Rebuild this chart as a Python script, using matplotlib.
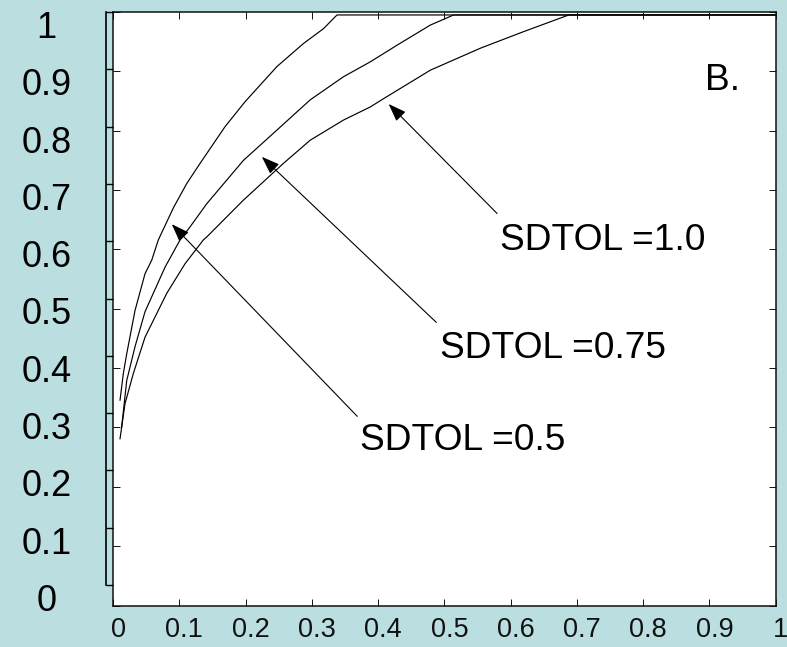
import numpy as np
import matplotlib
matplotlib.use("Agg")
import matplotlib.pyplot as plt
from matplotlib.transforms import ScaledTranslation

plt.rcParams['font.family'] = ['Liberation Sans', 'DejaVu Sans']

## curve data (x, y) for the three tolerance settings, flat at the top once saturated
x_sd05_ = [0.0106, 0.0156, 0.0207, 0.0332, 0.0483, 0.0585, 0.0684, 0.0911, 0.1113, 0.1314,
           0.1692, 0.1994, 0.2473, 0.2875, 0.3177, 0.338, 1.0]
y_sd05_ = [0.346, 0.391, 0.424, 0.497, 0.559, 0.582, 0.616, 0.670, 0.711, 0.745,
           0.807, 0.849, 0.908, 0.947, 0.972, 0.995, 0.995]

x_sd075_ = [0.0131, 0.0207, 0.0332, 0.0483, 0.0785, 0.1012, 0.1163, 0.1415, 0.1968, 0.2473,
            0.2976, 0.3479, 0.3882, 0.4285, 0.4789, 0.514, 1.0]
y_sd075_ = [0.301, 0.379, 0.436, 0.495, 0.570, 0.616, 0.638, 0.677, 0.750, 0.801,
            0.852, 0.891, 0.916, 0.944, 0.978, 0.995, 0.995]

x_sd10_ = [0.0106, 0.0181, 0.0307, 0.0483, 0.0811, 0.1088, 0.1364, 0.1415, 0.1968, 0.2572,
           0.2976, 0.3479, 0.3882, 0.4083, 0.4789, 0.5544, 0.6198, 0.6878, 1.0]
y_sd10_ = [0.281, 0.340, 0.391, 0.452, 0.526, 0.576, 0.616, 0.621, 0.683, 0.745,
           0.784, 0.818, 0.840, 0.854, 0.902, 0.939, 0.967, 0.995, 0.995]

tick_vals_ = [0, 0.1, 0.2, 0.3, 0.4, 0.5, 0.6, 0.7, 0.8, 0.9, 1]
tick_labs_ = ['0', '0.1', '0.2', '0.3', '0.4', '0.5', '0.6', '0.7', '0.8', '0.9', '1']

# annotation labels: text, arrow tip, arrow tail, text anchor
ann_labels_ = ['SDTOL =1.0', 'SDTOL =0.75', 'SDTOL =0.5']
ann_tips_ = [(0.4159, 0.845), (0.2246, 0.756), (0.0887, 0.6425)]
ann_tails_ = [(0.5796, 0.6605), (0.4879, 0.477), (0.3686, 0.3187)]
ann_text_xy_ = [(0.5846, 0.6155), (0.494, 0.433), (0.373, 0.278)]

bg_ = '#bbdfe1'
fig = plt.figure(figsize=(7.87, 6.47), dpi=100, facecolor=bg_)

ax = fig.add_axes([113 / 787, (647 - 605.5) / 647, 662.7 / 787, 593.5 / 647])
ax.set_facecolor('white')
for x_, y_ in [(x_sd05_, y_sd05_), (x_sd075_, y_sd075_), (x_sd10_, y_sd10_)]:
    ax.plot(x_, y_, color='black', lw=0.85)
ax.set_xlim(0, 1)
ax.set_ylim(0, 1)
ax.set_xticks(tick_vals_)
ax.set_xticklabels(tick_labs_)
ax.set_yticks(tick_vals_)
ax.set_yticklabels([])
ax.tick_params(direction='in', length=5, width=0.7, top=True, right=True,
               labelsize=19.5, pad=8.5, colors='#111111')
for lab_ in ax.get_xticklabels():
    lab_.set_transform(lab_.get_transform() + ScaledTranslation(5 / 100, 0, fig.dpi_scale_trans))
for sp_ in ax.spines.values():
    sp_.set_linewidth(1.1)
    sp_.set_color('#111111')

for lab_, tip_, tail_, txy_ in zip(ann_labels_, ann_tips_, ann_tails_, ann_text_xy_):
    ax.annotate('', xy=tip_, xytext=tail_,
                arrowprops=dict(arrowstyle='-|>,head_length=1.1,head_width=0.4',
                                mutation_scale=10, color='black', lw=0.8,
                                shrinkA=0, shrinkB=0))
    ax.text(txy_[0], txy_[1], lab_, fontsize=26.7, ha='left', va='center')
ax.text(0.894, 0.885, 'B.', fontsize=26.7, ha='left', va='center')

# separate outer y axis carrying the labels
ax2 = fig.add_axes([106 / 787, (647 - 585) / 647, 0.0001, 573 / 647])
ax2.set_facecolor('none')
for k_ in ['top', 'right', 'bottom']:
    ax2.spines[k_].set_visible(False)
ax2.spines['left'].set_linewidth(1.2)
ax2.set_ylim(0, 1)
ax2.set_xticks([])
ax2.set_yticks(tick_vals_)
ax2.set_yticklabels(tick_labs_)
ax2.tick_params(axis='y', direction='in', length=5, width=1.0, labelsize=26, pad=43)
for lab_ in ax2.get_yticklabels():
    lab_.set_horizontalalignment('center')
    lab_.set_transform(lab_.get_transform() + ScaledTranslation(0, -12.5 / 100, fig.dpi_scale_trans))

fig.savefig('out.png', dpi=100, facecolor=bg_)
